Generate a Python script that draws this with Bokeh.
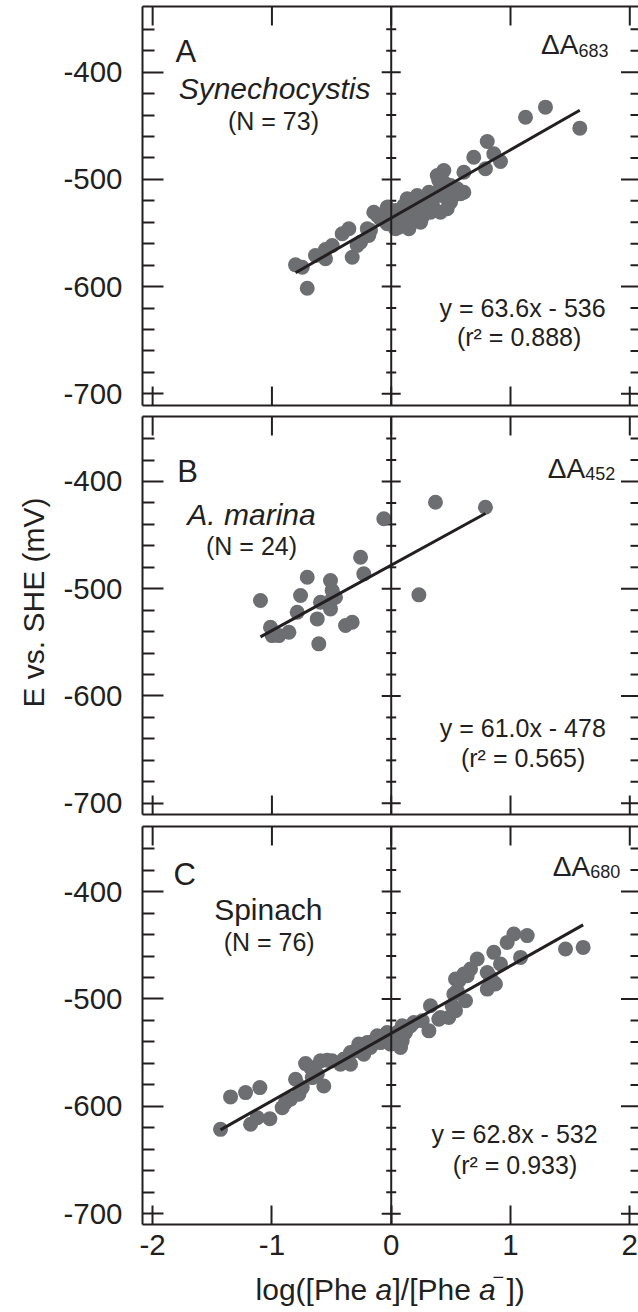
import math
from bokeh.plotting import figure
from bokeh.models import Range1d, LinearAxis, FixedTicker, Label, Span, Title
from bokeh.layouts import column
from bokeh.embed import file_html
from bokeh.resources import INLINE

# ---------------- data ----------------
xA = [-0.802, -0.746, -0.704, -0.635, -0.551, -0.551, -0.495, -0.411, -0.355, -0.327,
      -0.285, -0.188, -0.201, -0.146, -0.090, -0.034, -0.034, -0.062, 0.036, 0.050,
      0.092, 0.134, 0.148, 0.162, 0.190, 0.218, 0.246, 0.274, 0.302, 0.316,
      0.344, 0.371, 0.386, 0.399, 0.441, 0.413, 0.469, 0.469, 0.497, 0.525,
      0.553, 0.609, 0.609, 0.692, 0.790, 0.805, 0.860, 0.916, 1.126, 1.293,
      1.581, -0.006, 0.106, 0.176, 0.260, 0.330, 0.288, 0.357, 0.427, 0.441,
      0.386, 0.497, 0.064, -0.117, -0.034, -0.257, -0.174, 0.120, 0.232, 0.204,
      0.581, 0.413, 0.036]
yA = [-579.7, -581.9, -601.5, -571.0, -574.0, -565.4, -561.7, -550.7, -546.0, -572.6,
      -561.7, -552.3, -546.0, -530.6, -536.8, -525.9, -541.4, -532.0, -529.0, -538.3,
      -532.0, -518.0, -546.0, -536.8, -525.9, -515.0, -540.0, -527.4, -518.0, -512.0,
      -522.8, -529.0, -512.0, -501.0, -491.7, -530.6, -527.4, -518.0, -505.7, -515.0,
      -508.8, -493.3, -512.0, -479.3, -490.1, -464.6, -476.1, -483.3, -442.0, -432.6,
      -452.2, -535.3, -524.3, -540.0, -535.3, -530.6, -524.3, -516.5, -515.0, -502.6,
      -496.4, -521.3, -544.6, -533.7, -533.7, -558.6, -547.7, -529.0, -521.3, -533.7,
      -513.4, -508.8, -546.0]

xB = [-1.096, -1.012, -0.998, -0.942, -0.858, -0.788, -0.760, -0.704, -0.607, -0.620,
      -0.593, -0.509, -0.495, -0.495, -0.509, -0.383, -0.327, -0.257, -0.230, -0.062,
      0.232, 0.371, 0.790, -0.467]
yB = [-511.0, -535.9, -543.7, -543.7, -540.6, -521.9, -506.3, -489.3, -551.4, -528.1,
      -512.6, -492.4, -501.7, -509.4, -518.8, -534.3, -531.3, -470.6, -486.1, -434.8,
      -505.7, -419.3, -424.0, -507.9]

xC = [-1.431, -1.347, -1.221, -1.101, -1.179, -1.123, -1.017, -0.914, -0.844, -0.774,
      -0.802, -0.718, -0.662, -0.565, -0.593, -0.537, -0.620, -0.425, -0.341, -0.341,
      -0.272, -0.230, -0.174, -0.117, -0.090, -0.034, -0.006, 0.092, 0.092, 0.050,
      0.050, 0.106, 0.190, 0.316, 0.329, 0.413, 0.483, 0.539, 0.525, 0.567,
      0.539, 0.623, 0.609, 0.665, 0.721, 0.805, 0.805, 0.860, 0.860, 0.916,
      0.972, 1.028, 1.140, 1.084, 1.461, 1.609, -0.886, -0.746, -0.676, -0.495,
      -0.397, -0.299, -0.201, -0.146, -0.062, 0.022, 0.078, 0.120, 0.162, 0.260,
      0.399, 0.511, 0.553, 0.637, 0.832, 0.874]
yC = [-621.4, -591.2, -587.2, -582.5, -616.7, -610.5, -611.5, -601.2, -593.4, -588.7,
      -574.7, -560.2, -573.2, -581.0, -557.6, -557.0, -570.0, -560.7, -560.7, -549.9,
      -542.0, -551.4, -545.2, -534.3, -540.6, -531.2, -542.0, -525.0, -539.0, -531.2,
      -534.3, -532.7, -521.9, -529.7, -506.3, -517.3, -517.3, -511.0, -495.4, -483.0,
      -481.4, -501.7, -476.8, -472.1, -462.8, -475.3, -490.8, -456.6, -484.6, -467.4,
      -447.3, -439.5, -441.0, -461.3, -453.5, -452.0, -596.5, -582.5, -563.9, -557.6,
      -556.0, -548.3, -540.6, -539.0, -535.9, -535.9, -545.2, -531.2, -525.0, -520.3,
      -518.8, -506.3, -492.4, -478.4, -479.9, -486.1]

fitA = (63.6, -536.0)
fitB = (61.0, -478.0)
fitC = (62.8, -532.0)

panel_letters = ["A", "B", "C"]
species = ["Synechocystis", "A. marina", "Spinach"]
n_labels = ["(N = 73)", "(N = 24)", "(N = 76)"]
wavelengths = ["683", "452", "680"]
eq_labels = ["y = 63.6x - 536", "y = 61.0x - 478", "y = 62.8x - 532"]
r2_labels = ["(r\u00b2 = 0.888)", "(r\u00b2 = 0.565)", "(r\u00b2 = 0.933)"]
y_title = "E vs. SHE (mV)"

y_major = [-700, -600, -500, -400]
y_minor = [-680, -660, -640, -620, -580, -560, -540, -520,
           -480, -460, -440, -420, -380, -360]
x_major = [-2, -1, 0, 1, 2]
y_tick_text = {v: "%d" % v for v in y_major}
x_tick_text = {v: "%d" % v for v in x_major}

INK = "#231f20"
DOT = "#6d6e71"
FONT = "Liberation Sans"
X_RANGE = (-2.085, 2.073)
BASELINE_FIX = 0.36   # em; compensates label baseline placement


def lab(p, x, y, text, size_px, align="left", style="normal", x_offset=0, y_offset=0):
    p.add_layout(Label(x=x, y=y, text=text, text_font=FONT,
                       text_font_size="%gpx" % size_px,
                       text_color=INK, text_align=align, text_baseline="alphabetic",
                       text_font_style=style, x_offset=x_offset,
                       y_offset=y_offset + BASELINE_FIX * size_px))


def make_panel(xs, ys, fit, yr, height, btop, bbot, show_x_labels):
    p = figure(width=638, height=height, x_range=Range1d(*X_RANGE),
               y_range=Range1d(yr[0], yr[1]), output_backend="svg",
               toolbar_location=None, min_border_left=142, min_border_right=0,
               min_border_top=btop, min_border_bottom=bbot,
               outline_line_color=None, background_fill_color="white",
               border_fill_color="white")
    p.grid.visible = False

    ya = p.yaxis[0]
    ya.ticker = FixedTicker(ticks=y_major, minor_ticks=y_minor)
    ya.major_label_overrides = y_tick_text
    ya.axis_line_color = INK
    ya.axis_line_width = 2
    ya.major_tick_in = 21
    ya.major_tick_out = 0
    ya.minor_tick_in = 12
    ya.minor_tick_out = 0
    ya.major_tick_line_color = INK
    ya.minor_tick_line_color = INK
    ya.major_tick_line_width = 2
    ya.minor_tick_line_width = 2
    ya.major_label_text_font = FONT
    ya.major_label_text_font_size = "29.5px"
    ya.major_label_text_color = INK
    ya.major_label_standoff = 20

    xa = p.xaxis[0]
    xa.axis_line_color = INK
    xa.axis_line_width = 2
    xa.major_tick_out = 0
    xa.minor_tick_line_color = None
    xa.major_label_standoff = 0
    if show_x_labels:
        xa.ticker = FixedTicker(ticks=x_major, minor_ticks=[])
        xa.major_label_overrides = x_tick_text
        xa.major_tick_in = 19
        xa.major_tick_line_color = INK
        xa.major_tick_line_width = 2
        xa.major_label_text_font = FONT
        xa.major_label_text_font_size = "29.5px"
        xa.major_label_text_color = INK
        xa.major_label_standoff = 10
    else:
        # frame line only; ticks drawn as clipped markers below
        xa.ticker = FixedTicker(ticks=[], minor_ticks=[])
        xa.major_tick_line_color = None
        p.scatter(x=x_major, y=[yr[0]] * len(x_major), marker="dash", angle=math.pi / 2,
                  size=38, line_color=INK, line_width=2)

    top = LinearAxis(ticker=FixedTicker(ticks=[], minor_ticks=[]), axis_line_color=INK,
                     axis_line_width=2, major_tick_line_color=None,
                     minor_tick_line_color=None, major_tick_out=0, major_label_standoff=0)
    p.add_layout(top, "above")

    # inward ticks along top and right edges (outer halves are clipped by the frame)
    p.scatter(x=x_major, y=[yr[1]] * len(x_major), marker="dash", angle=math.pi / 2,
              size=38, line_color=INK, line_width=2)
    p.scatter(x=[X_RANGE[1]] * len(y_major), y=y_major, marker="dash", size=35,
              line_color=INK, line_width=2)
    p.scatter(x=[X_RANGE[1]] * len(y_minor), y=y_minor, marker="dash", size=16,
              line_color=INK, line_width=2)

    # central axis line at x = 0 with crossing ticks
    p.add_layout(Span(location=0, dimension="height", line_color=INK, line_width=2))
    p.scatter(x=[0] * len(y_major), y=y_major, marker="dash", size=19,
              line_color=INK, line_width=2)
    p.scatter(x=[0] * len(y_minor), y=y_minor, marker="dash", size=10,
              line_color=INK, line_width=2)

    # data points and fit
    p.scatter(x=xs, y=ys, size=15, fill_color=DOT, line_color=None)
    m, b = fit
    x0, x1 = min(xs), max(xs)
    p.line(x=[x0, x1], y=[m * x0 + b, m * x1 + b], line_color=INK, line_width=3)
    return p


pA = make_panel(xA, yA, fitA, (-710.9, -338.7), 410, 6, 5, False)
pB = make_panel(xB, yB, fitB, (-710.5, -339.4), 410, 6, 6, False)
pC = make_panel(xC, yC, fitC, (-710.0, -339.4), 444, 6, 40, True)

# panel A texts
lab(pA, -1.808, -391.0, panel_letters[0], 31)
lab(pA, -0.978, -425.7, species[0], 30, align="center", style="italic")
lab(pA, -0.987, -453.7, n_labels[0], 25, align="center")
lab(pA, 1.570, -384.0, "\u0394A", 28, align="right")
lab(pA, 1.570, -385.5, wavelengths[0], 18, align="left")
lab(pA, 1.101, -627.9, eq_labels[0], 25, align="center")
lab(pA, 1.072, -655.0, r2_labels[0], 25, align="center")

# panel B texts
lab(pB, -1.794, -400.7, panel_letters[1], 31)
lab(pB, -1.171, -441.0, species[1], 30, align="center", style="italic")
lab(pB, -1.171, -469.0, n_labels[1], 25, align="center")
lab(pB, 1.626, -397.0, "\u0394A", 28, align="right")
lab(pB, 1.626, -398.6, wavelengths[1], 18, align="left")
lab(pB, 1.103, -637.9, eq_labels[1], 25, align="center")
lab(pB, 1.106, -666.5, r2_labels[1], 25, align="center")
pB.add_layout(Title(text=y_title, align="left", offset=107, standoff=22,
                    text_font=FONT, text_font_size="30px", text_font_style="normal",
                    text_color=INK), "left")

# panel C texts
lab(pC, -1.825, -394.4, panel_letters[2], 31)
lab(pC, -1.030, -426.4, species[2], 30, align="center")
lab(pC, -1.023, -455.0, n_labels[2], 25, align="center")
lab(pC, 1.668, -386.2, "\u0394A", 28, align="right")
lab(pC, 1.668, -387.7, wavelengths[2], 18, align="left")
lab(pC, 1.034, -633.9, eq_labels[2], 25, align="center")
lab(pC, 1.038, -663.4, r2_labels[2], 25, align="center")

# x-axis title strip (frame aligned with the panels), regular + italic pieces
strip = figure(width=638, height=48, x_range=Range1d(*X_RANGE),
               y_range=Range1d(0, 48), output_backend="svg", toolbar_location=None,
               x_axis_type=None, y_axis_type=None, min_border=0, min_border_left=142,
               outline_line_color=None, background_fill_color="white",
               border_fill_color="white")
strip.grid.visible = False
xl0 = -1.1375
yl0 = 12
lab(strip, xl0, yl0, "log([Phe ", 30, x_offset=0)
lab(strip, xl0, yl0, "a", 30, style="italic", x_offset=120)
lab(strip, xl0, yl0, "]/[Phe ", 30, x_offset=137)
lab(strip, xl0, yl0, "a", 30, style="italic", x_offset=223.5)
lab(strip, xl0, yl0, "\u2212", 20, x_offset=237, y_offset=16)
lab(strip, xl0, yl0, "])", 30, x_offset=251)

layout = column(pA, pB, pC, strip, spacing=0)
open("out.html", "w").write(file_html(layout, INLINE))
